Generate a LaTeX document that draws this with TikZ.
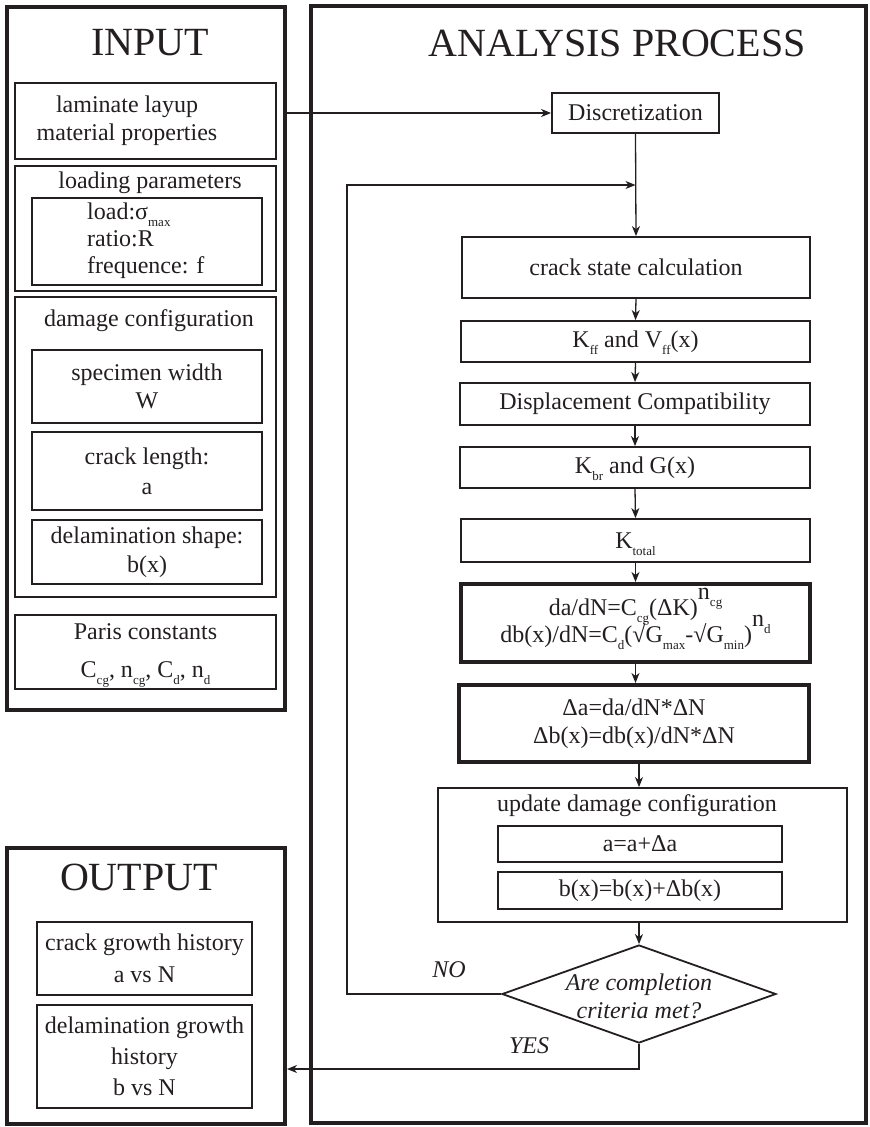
\documentclass[tikz,border=0pt]{standalone}
\usepackage{fontspec}
\setmainfont{Liberation Serif}
\usetikzlibrary{shapes.geometric,arrows.meta}
\definecolor{ink}{RGB}{35,31,32}
\newcommand{\lowsub}[1]{\smash{\raisebox{-0.3em}{\fontsize{13}{13}\selectfont #1}}}
\newcommand{\highsup}[2]{\smash{\raisebox{0.65em}{#1\lowsub{#2}}}}
\begin{document}
\begin{tikzpicture}[x=1pt,y=-1pt,
  every node/.style={text=ink},
  base/.style={font=\fontsize{24}{28}\selectfont, inner sep=0pt, align=center},
  box/.style={base, draw=ink, line width=1.8pt, rectangle},
  thickbox/.style={box, line width=4pt},
  frame/.style={draw=ink, line width=4pt, rectangle, inner sep=0pt},
  title/.style={font=\fontsize{40}{48}\selectfont, inner sep=0pt},
  txt/.style={base},
  conn/.style={draw=ink, line width=1.3pt},
  arr/.style={conn, -{Stealth[length=10pt,width=8pt,inset=3pt]}},
  decision/.style={diamond, draw=ink, line width=1.8pt, minimum width=274pt, minimum height=98pt, inner sep=0pt},
  lbl/.style={inner sep=0pt, font=\itshape\fontsize{24}{28}\selectfont}
]
\useasboundingbox (0,0) rectangle (870,1127);

% ---------------- INPUT ----------------
\node[frame, minimum width=278.5pt, minimum height=703.5pt] (inbox) at (145.75,358.25) {};
\node[title] (intitle) at (150,43) {INPUT};
\node[box, minimum width=261pt, minimum height=76pt] (lam) at (145.5,121) {};
\node[txt] (lamtxt) at (127,121) {laminate layup\\material properties};

\node[box, minimum width=261pt, minimum height=125pt] (loadp) at (145.5,228.5) {};
\node[txt] (loadtitle) at (150,183) {loading parameters};
\node[box, minimum width=230pt, minimum height=87pt] (loadin) at (147,241.5) {};
\node[txt, anchor=west, align=left, font=\fontsize{24}{27}\selectfont] (loadtxt) at (87,241) {load:σ\lowsub{max}\\ratio:R\\frequence: f};

\node[box, minimum width=261pt, minimum height=300pt] (dmg) at (145.5,447) {};
\node[txt] (dmgtitle) at (149,321) {damage configuration};
\node[box, minimum width=230pt, minimum height=73pt] (spec) at (147,386.5) {specimen width\\W};
\node[box, minimum width=230pt, minimum height=78pt, font=\fontsize{24}{30}\selectfont] (clen) at (147,471) {crack length:\\a};
\node[box, minimum width=230pt, minimum height=64pt, font=\fontsize{24}{29}\selectfont] (dshape) at (147,552) {delamination shape:\\b(x)};
\node[box, minimum width=261pt, minimum height=74pt, font=\fontsize{24}{38}\selectfont] (paris) at (145.5,652) {Paris constants\\C\lowsub{cg}, n\lowsub{cg}, C\lowsub{d}, n\lowsub{d}};

% ---------------- OUTPUT ----------------
\node[frame, minimum width=278.5pt, minimum height=276pt] (outbox) at (145.75,986) {};
\node[title] (outtitle) at (139,877) {OUTPUT};
\node[box, minimum width=215pt, minimum height=73pt, font=\fontsize{24}{32}\selectfont] (cgh) at (144.5,958.5) {crack growth history\\a vs N};
\node[box, minimum width=215pt, minimum height=103pt, font=\fontsize{24}{31}\selectfont] (dgh) at (144.5,1056.5) {delamination growth\\history\\b vs N};

% ---------------- ANALYSIS ----------------
\node[frame, minimum width=555pt, minimum height=1117pt] (anbox) at (588.5,564.5) {};
\node[title] (antitle) at (617,43) {ANALYSIS PROCESS};
\node[box, minimum width=167pt, minimum height=40pt] (disc) at (635.5,113) {Discretization};
\node[box, minimum width=348pt, minimum height=61pt] (crack) at (636,267.5) {crack state calculation};
\node[box, minimum width=349pt, minimum height=41pt] (kff) at (635.5,341.5) {K\lowsub{ff} and V\lowsub{ff}(x)};
\node[box, minimum width=350pt, minimum height=42pt] (disp) at (635,404) {Displacement Compatibility};
\node[box, minimum width=350pt, minimum height=41pt] (kbr) at (635,467.5) {K\lowsub{br} and G(x)};
\node[box, minimum width=349pt, minimum height=43pt] (ktot) at (635.5,540.5) {K\lowsub{total}};
\node[thickbox, minimum width=349pt, minimum height=78pt, font=\fontsize{24}{27}\selectfont] (dadn) at (635.5,623) {da/dN=C\lowsub{cg}(ΔK)\highsup{n}{cg}\\db(x)/dN=C\lowsub{d}(√G\lowsub{max}-√G\lowsub{min})\highsup{n}{d}};
\node[thickbox, minimum width=350pt, minimum height=77pt] (delta) at (634,723.5) {Δa=da/dN*ΔN\\Δb(x)=db(x)/dN*ΔN};
\node[box, minimum width=409pt, minimum height=134pt] (upd) at (642.5,855) {};
\node[txt] (updtitle) at (637,806) {update damage configuration};
\node[box, minimum width=284pt, minimum height=36pt] (upa) at (640,844) {a=a+Δa};
\node[box, minimum width=284pt, minimum height=37pt] (upb) at (640,890.5) {b(x)=b(x)+Δb(x)};
\node[decision] (dec) at (639,994) {};
\node[base, font=\itshape\fontsize{24}{28}\selectfont] (dectxt) at (639,996) {Are completion\\criteria met?};
\node[lbl] (no) at (449,970) {NO};
\node[lbl] (yes) at (529,1046) {YES};

% ---------------- connectors ----------------
\coordinate (merge) at (635.5,185);
\coordinate (loopc) at (347,185);
\coordinate (yesc) at (639,1069);
\draw[arr] (disc.west -| inbox.east) -- (disc.west);
\draw[arr] (disc.south) -- (crack.north);
\draw[arr] (dec.west) -| (loopc) -- (merge);
\draw[arr] (crack.south) -- (kff.north);
\draw[arr] (kff.south) -- (disp.north);
\draw[arr] (disp.south) -- (kbr.north);
\draw[arr] (kbr.south) -- (ktot.north);
\draw[arr] (ktot.south) -- (dadn.north);
\draw[arr] (dadn.south) -- (delta.north -| dadn.south);
\draw[arr] (delta.south -| dec.north) -- (upd.north -| dec.north);
\draw[arr] (upd.south -| dec.north) -- (dec.north);
\draw[arr] (dec.south) |- (yesc -| outbox.east);
\end{tikzpicture}
\end{document}
